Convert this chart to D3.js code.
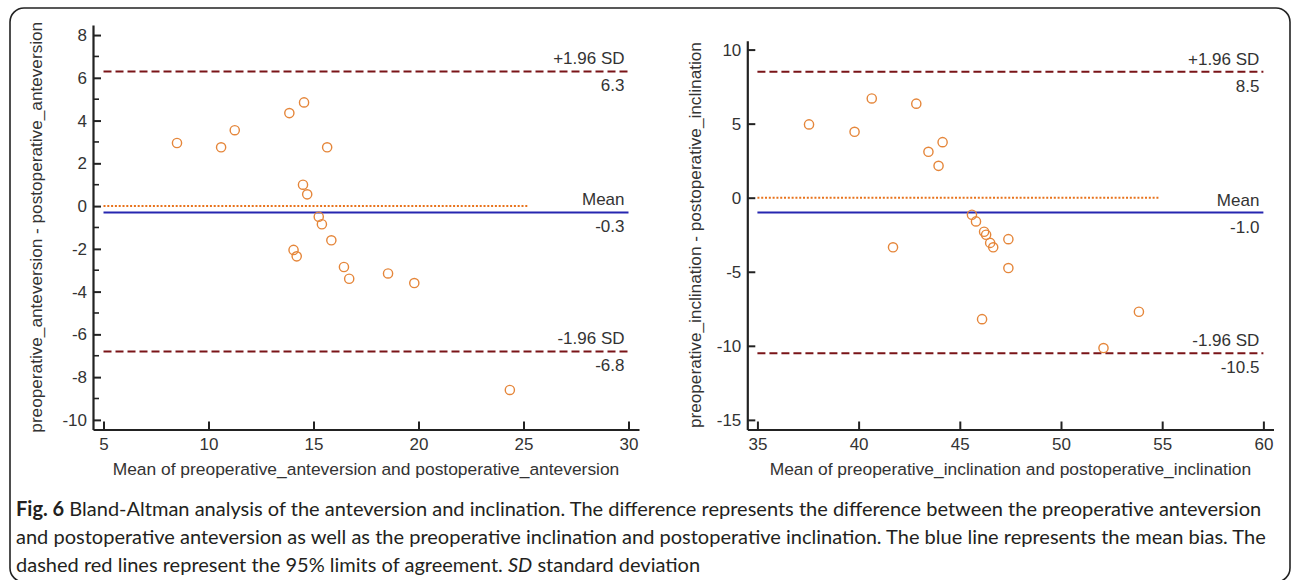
<!DOCTYPE html>
<html>
<head>
<meta charset="utf-8">
<script src="https://cdn.jsdelivr.net/npm/d3@7/dist/d3.min.js"></script>
<style>
  body { margin: 0; background: #fff; }
  svg { display: block; }
  .tick text { font-family: "Liberation Sans", Arial, sans-serif; font-size: 17px; fill: #333; }
</style>
</head>
<body>
<svg id="chart" width="1292" height="580"></svg>
<script>
// ---- data ----
// left panel: anteversion
var antevMean = [8.5, 10.6, 11.25, 13.85, 14.55, 15.65, 14.5, 14.7, 15.25, 15.4, 15.85, 14.05, 14.2, 16.45, 16.7, 18.55, 19.8, 24.35];
var antevDiff = [2.95, 2.75, 3.55, 4.35, 4.85, 2.75, 1.0, 0.55, -0.5, -0.85, -1.6, -2.05, -2.35, -2.85, -3.4, -3.15, -3.6, -8.6];
var antevLimits = [6.3, -0.3, -6.8];        // +1.96 SD, mean, -1.96 SD
var antevLineRange = [5, 30];
var antevZeroRange = [5, 25.2];
var antevXTicks = [5, 10, 15, 20, 25, 30];
var antevYTicks = [-10, -8, -6, -4, -2, 0, 2, 4, 6, 8];
var antevYMinor = [-9, -7, -5, -3, -1, 1, 3, 5, 7];

// right panel: inclination
var inclMean = [37.55, 39.8, 40.65, 42.85, 43.45, 44.15, 43.95, 41.7, 46.1, 45.6, 45.8, 46.2, 46.3, 46.5, 46.65, 47.4, 47.4, 53.85, 52.1];
var inclDiff = [4.95, 4.45, 6.7, 6.35, 3.1, 3.75, 2.15, -3.35, -8.2, -1.15, -1.6, -2.3, -2.5, -3.05, -3.35, -2.8, -4.75, -7.7, -10.15];
var inclLimits = [8.5, -1.0, -10.5];
var inclLineRange = [35, 60];
var inclZeroRange = [35, 54.85];
var inclXTicks = [35, 40, 45, 50, 55, 60];
var inclYTicks = [-15, -10, -5, 0, 5, 10];

var limitNames = ["+1.96 SD", "Mean", "-1.96 SD"];

var captionLines = [
  [["Fig. 6", true], [" Bland-Altman analysis of the anteversion and inclination. The difference represents the difference between the preoperative anteversion", false]],
  [["and postoperative anteversion as well as the preoperative inclination and postoperative inclination. The blue line represents the mean bias. The", false]],
  [["dashed red lines represent the 95% limits of agreement. ", false], ["SD", false, true], [" standard deviation", false]]
];

var svg = d3.select("#chart");

// rounded frame (bottom edge sits just below the picture)
svg.append("rect")
    .attr("x", 10).attr("y", 8)
    .attr("width", 1280).attr("height", 574)
    .attr("rx", 14).attr("ry", 14)
    .attr("fill", "none")
    .attr("stroke", "#222")
    .attr("stroke-width", 1.6);

function plain(d) { return String(d); }   // keep a hyphen minus, like the figure

function drawPanel(p) {
  var x = d3.scaleLinear().domain(p.xDomain).range([p.left, p.right]);
  var y = d3.scaleLinear().domain(p.yDomain).range([p.bottom, p.top]);
  var g = svg.append("g");

  // zero line (dotted orange)
  g.append("line")
      .attr("x1", x(p.zeroRange[0])).attr("x2", x(p.zeroRange[1]))
      .attr("y1", y(0)).attr("y2", y(0))
      .attr("stroke", "#e8731c")
      .attr("stroke-width", 2)
      .attr("stroke-dasharray", "2,1.8");

  // limits and mean
  p.limits.forEach(function(v, i) {
    var isMean = i == 1;
    g.append("line")
        .attr("x1", x(p.lineRange[0])).attr("x2", x(p.lineRange[1]))
        .attr("y1", y(v)).attr("y2", y(v))
        .attr("stroke", isMean ? "#2626b0" : "#7a1418")
        .attr("stroke-width", 2)
        .attr("stroke-dasharray", isMean ? null : "8,4");
    g.append("text")
        .attr("x", x(p.lineRange[1]) - 4)
        .attr("y", y(v) - 7)
        .attr("text-anchor", "end")
        .style("font-family", "Liberation Sans, Arial, sans-serif")
        .style("font-size", "17px")
        .style("fill", "#333")
        .text(limitNames[i]);
    g.append("text")
        .attr("x", x(p.lineRange[1]) - 4)
        .attr("y", y(v) + 20)
        .attr("text-anchor", "end")
        .style("font-family", "Liberation Sans, Arial, sans-serif")
        .style("font-size", "17px")
        .style("fill", "#333")
        .text(v.toFixed(1));
  });

  // points
  g.selectAll(".dot")
      .data(p.mean.map(function(m, i) { return {m: m, d: p.diff[i]}; }))
    .enter().append("circle")
      .attr("class", "dot")
      .attr("r", 4.6)
      .attr("cx", function(d) { return x(d.m); })
      .attr("cy", function(d) { return y(d.d); })
      .attr("fill", "none")
      .attr("stroke", "#e5863a")
      .attr("stroke-width", 1.4);

  // axes, ticks pointing inward
  var xAxis = d3.axisBottom(x).tickValues(p.xTicks).tickFormat(plain)
      .tickSize(-8).tickSizeOuter(0).tickPadding(8);
  var yAxis = d3.axisLeft(y).tickValues(p.yTicks).tickFormat(plain)
      .tickSize(-8).tickSizeOuter(0).tickPadding(6);

  var gx = g.append("g")
      .attr("transform", "translate(0," + p.bottom + ")")
      .call(xAxis);
  var gy = g.append("g")
      .attr("transform", "translate(" + p.left + ",0)")
      .call(yAxis);

  if (p.yMinor) {
    gy.selectAll(".minor")
        .data(p.yMinor)
      .enter().append("line")
        .attr("class", "minor")
        .attr("x1", 0).attr("x2", 6)
        .attr("y1", function(d) { return y(d); })
        .attr("y2", function(d) { return y(d); })
        .attr("stroke", "#222")
        .attr("stroke-width", 1.6);
  }

  [gx, gy].forEach(function(a) {
    a.select(".domain").attr("stroke", "#222").attr("stroke-width", 2.2);
    a.selectAll(".tick line").attr("stroke", "#222").attr("stroke-width", 2);
  });

  // axis titles
  g.append("text")
      .attr("x", (p.left + p.right) / 2)
      .attr("y", 475)
      .attr("text-anchor", "middle")
      .style("font-family", "Liberation Sans, Arial, sans-serif")
      .style("font-size", "17.4px")
      .style("fill", "#333")
      .text(p.xTitle);

  g.append("text")
      .attr("transform", "translate(" + p.yTitleX + "," + (p.top + p.bottom) / 2 + ") rotate(-90)")
      .attr("text-anchor", "middle")
      .style("font-family", "Liberation Sans, Arial, sans-serif")
      .style("font-size", "17.2px")
      .style("fill", "#333")
      .text(p.yTitle);
}

drawPanel({
  mean: antevMean, diff: antevDiff, limits: antevLimits,
  lineRange: antevLineRange, zeroRange: antevZeroRange,
  xTicks: antevXTicks, yTicks: antevYTicks, yMinor: antevYMinor,
  xDomain: [4.5, 30.5], yDomain: [-10.45, 8.47],
  left: 93, right: 639, top: 25, bottom: 429.5, yTitleX: 42,
  xTitle: "Mean of preoperative_anteversion and postoperative_anteversion",
  yTitle: "preoperative_anteversion - postoperative_anteversion"
});

drawPanel({
  mean: inclMean, diff: inclDiff, limits: inclLimits,
  lineRange: inclLineRange, zeroRange: inclZeroRange,
  xTicks: inclXTicks, yTicks: inclYTicks, yMinor: null,
  xDomain: [34.5, 60.5], yDomain: [-15.65, 10.6],
  left: 747.3, right: 1273.5, top: 40.7, bottom: 429.5, yTitleX: 701,
  xTitle: "Mean of preoperative_inclination and postoperative_inclination",
  yTitle: "preoperative_inclination - postoperative_inclination"
});

// caption
var cap = svg.append("g")
    .style("font-family", "Lato, 'Open Sans', sans-serif")
    .style("fill", "#231f20");
var capSize = 19;
var capTexts = captionLines.map(function(parts, i) {
  var t = cap.append("text")
      .attr("x", 16)
      .attr("y", 516 + i * 28)
      .style("font-size", capSize + "px");
  parts.forEach(function(p) {
    t.append("tspan")
        .style("font-weight", p[1] ? "bold" : "normal")
        .style("font-style", p[2] ? "italic" : "normal")
        .text(p[0]);
  });
  return t;
});
// scale the caption so the first line spans the same width as in the figure
var w = capTexts[0].node().getComputedTextLength();
var fitted = capSize * 1246 / w;
capTexts.forEach(function(t) { t.style("font-size", fitted + "px"); });
</script>
</body>
</html>
